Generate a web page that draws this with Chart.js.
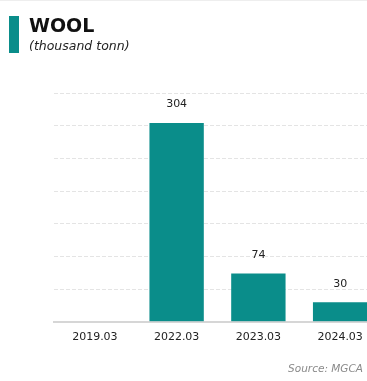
<!DOCTYPE html>
<html>
<head>
<meta charset="utf-8">
<script src="https://cdn.jsdelivr.net/npm/chart.js@4/dist/chart.umd.min.js"></script>
<style>
  html, body { margin: 0; padding: 0; background: #fff; overflow: hidden; width: 367px; height: 381px; }
  #wrap { position: relative; width: 367px; height: 381px; overflow: hidden; border-top: 1px solid #eeeeee; box-sizing: border-box; }
  #box { position: absolute; left: 0; top: -1px; width: 400px; height: 381px; }
  .mark { position: absolute; left: 9px; top: 15px; width: 10px; height: 37px; background: #0a8d8a; }
  .title { position: absolute; left: 29px; top: 13px; font-family: "DejaVu Sans", sans-serif; font-weight: bold; font-size: 19px; color: #111; letter-spacing: 0px; }
  .sub { position: absolute; left: 29px; top: 37px; font-family: "DejaVu Sans", sans-serif; font-style: italic; font-size: 12.5px; color: #222; }
  .src { position: absolute; right: 4px; top: 361px; font-family: "DejaVu Sans", sans-serif; font-style: italic; font-size: 10.5px; color: #8a8a8a; }
</style>
</head>
<body>
<div id="wrap">
  <div id="box"><canvas id="c" width="400" height="381"></canvas></div>
  <div class="mark"></div>
  <div class="title">WOOL</div>
  <div class="sub">(thousand tonn)</div>
  <div class="src">Source: MGCA</div>
</div>
<script>
const categories = ["2019.03", "2022.03", "2023.03", "2024.03"];
const woolValues = [null, 304, 74, 30];
const yMax = 350;
const yStep = 50;

const valueLabels = {
  id: "valueLabels",
  afterDatasetsDraw(chart) {
    const ctx = chart.ctx;
    const meta = chart.getDatasetMeta(0);
    ctx.save();
    ctx.font = "11px 'DejaVu Sans', sans-serif";
    ctx.fillStyle = "#222";
    ctx.textAlign = "center";
    ctx.textBaseline = "middle";
    meta.data.forEach((bar, i) => {
      const v = woolValues[i];
      if (v === null || v === undefined) return;
      ctx.fillText(String(v), bar.x, bar.y - 18.5);
    });
    ctx.restore();
  }
};

new Chart(document.getElementById("c"), {
  type: "bar",
  data: {
    labels: categories,
    datasets: [{
      data: woolValues,
      backgroundColor: "#0a8d8a",
      borderWidth: 0,
      categoryPercentage: 1,
      barPercentage: 0.665
    }]
  },
  options: {
    responsive: false,
    animation: false,
    devicePixelRatio: 1,
    layout: { padding: { left: 54, right: 19, top: 93, bottom: 36 } },
    plugins: { legend: { display: false }, tooltip: { enabled: false } },
    scales: {
      x: {
        grid: { display: false },
        border: { display: true, color: "#d6d6d6", width: 2 },
        ticks: { color: "#222", font: { family: "'DejaVu Sans', sans-serif", size: 11 }, padding: 1, maxRotation: 0 }
      },
      y: {
        min: 0, max: yMax,
        ticks: { stepSize: yStep, display: false },
        border: { display: false, dash: [4, 2] },
        grid: { color: "#e4e4e4", lineWidth: 1, drawTicks: false }
      }
    }
  },
  plugins: [valueLabels]
});
</script>
</body>
</html>
